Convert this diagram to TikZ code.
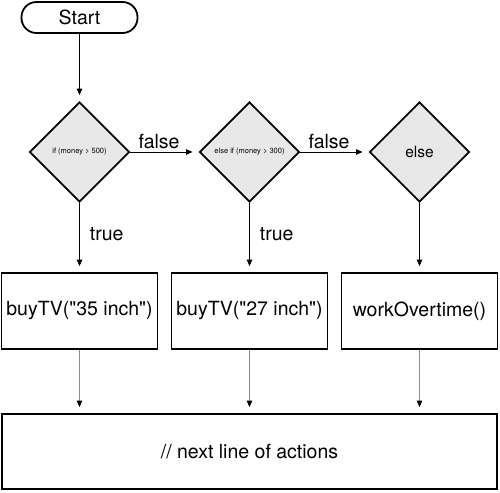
\documentclass[tikz,border=0pt]{standalone}
\usepackage{fontspec}
\setmainfont{TeX Gyre Heros}[Ligatures=TeXOff]
\usepackage{tikz}
\usetikzlibrary{shapes.geometric, arrows.meta, positioning}
\definecolor{decfill}{RGB}{232,232,232}
\definecolor{flowgray}{RGB}{140,140,140}
\tikzset{
  terminal/.style = {rectangle, rounded corners=15pt, draw, line width=1.8pt,
                     minimum width=116pt, minimum height=31pt,
                     font=\fontsize{19.5}{23}\selectfont},
  decision/.style = {diamond, draw, line width=1.8pt, fill=decfill,
                     minimum width=100pt, minimum height=100pt, inner sep=1pt,
                     font=\fontsize{7.5}{9}\selectfont},
  action/.style   = {rectangle, draw, line width=1.8pt, minimum width=#1,
                     minimum height=76pt, font=\fontsize{19.5}{23}\selectfont},
  action/.default = 156pt,
  arrow/.style    = {-{Triangle[length=6.5pt, width=5.5pt]}, line width=0.9pt,
                     shorten >=6pt},
  garrow/.style   = {-{Triangle[length=6.5pt, width=5.5pt, color=black]},
                     line width=1pt, draw=flowgray, shorten >=6pt},
  edgetext/.style = {font=\fontsize{19.5}{23}\selectfont, inner sep=3pt},
}

\begin{document}
\begin{tikzpicture}[x=1pt, y=-1pt]
  \useasboundingbox (0,0) rectangle (500,492);

  \node[terminal] (start) at (79.5, 17.5) {Start};

  \node[decision] (if1) at (79.5, 152)  {if (money > 500)};
  \node[decision] (if2) at (249.5, 152) {else if (money > 300)};
  \node[decision, font=\fontsize{15.5}{18}\selectfont]
                  (if3) at (419.5, 152) {else};

  \node[action] (act1) at (79.5, 311)  {buyTV("35 inch")};
  \node[action] (act2) at (249.5, 311) {buyTV("27 inch")};
  \node[action] (act3) at (419.5, 311) {workOvertime()};

  \node[action=495pt, minimum height=75pt] (next) at (249.5, 451.5)
    {// next line of actions};

  \draw[arrow] (start) -- (if1);
  \draw[arrow] (if1) -- node[edgetext, above, pos=0.42] {false} (if2);
  \draw[arrow] (if2) -- node[edgetext, above, pos=0.42] {false} (if3);
  \draw[arrow] (if1) -- node[edgetext, right=7pt, pos=0.45] {true} (act1);
  \draw[arrow] (if2) -- node[edgetext, right=7pt, pos=0.45] {true} (act2);
  \draw[arrow] (if3) -- (act3);

  % into the shared next step
  \draw[garrow] (act1) -- (act1 |- next.north);
  \draw[garrow] (act2) -- (act2 |- next.north);
  \draw[garrow] (act3) -- (act3 |- next.north);
\end{tikzpicture}
\end{document}
